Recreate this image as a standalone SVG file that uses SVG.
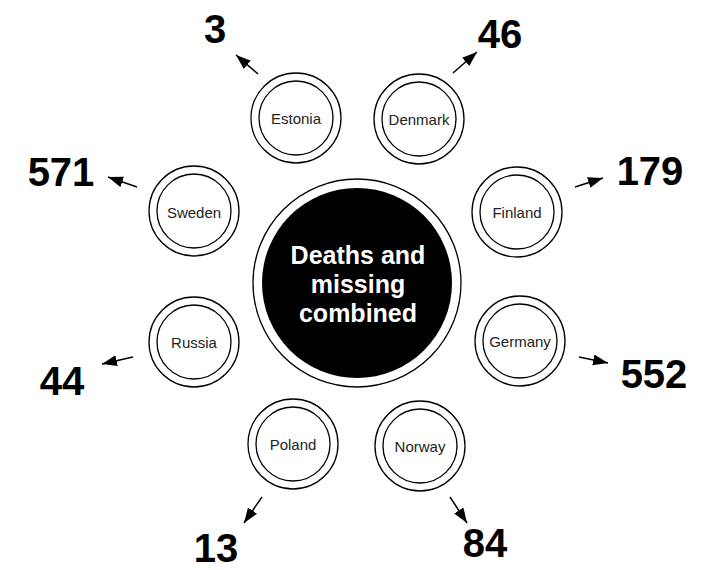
<svg xmlns="http://www.w3.org/2000/svg" width="710" height="570" viewBox="0 0 710 570">
<style>
.ring{fill:#fff;stroke:#000;stroke-width:1.3}
.lbl{font-family:"Liberation Sans",Arial,sans-serif;font-size:15px;fill:#222;text-anchor:middle;dominant-baseline:central}
.num{font-family:"Liberation Sans",Arial,sans-serif;font-size:40px;font-weight:bold;fill:#000;text-anchor:middle}
.ctr{font-family:"Liberation Sans",Arial,sans-serif;font-size:25px;font-weight:bold;fill:#fff;text-anchor:middle}
.arr{stroke:#000;stroke-width:1.5;fill:none;marker-end:url(#ah)}
</style>
<defs>
<marker id="ah" markerUnits="userSpaceOnUse" markerWidth="16" markerHeight="12" refX="15" refY="5.5" orient="auto">
<path d="M0,0 L15,5.5 L0,11 Z" fill="#000"/>
</marker>
</defs>
<rect width="710" height="570" fill="#fff"/>
<g id="center">
<circle cx="357" cy="283" r="104" class="ring"/>
<circle cx="357" cy="283" r="95" fill="#000"/>
<text class="ctr" x="358" y="264">Deaths and</text>
<text class="ctr" x="358" y="293">missing</text>
<text class="ctr" x="358" y="322">combined</text>
</g>
<g id="estonia"><circle cx="296" cy="118" r="45" class="ring"/><circle cx="296" cy="118" r="37" class="ring"/><text class="lbl" x="296" y="118">Estonia</text></g>
<g id="denmark"><circle cx="419" cy="119" r="45" class="ring"/><circle cx="419" cy="119" r="37" class="ring"/><text class="lbl" x="419" y="119">Denmark</text></g>
<g id="sweden"><circle cx="194" cy="211" r="45" class="ring"/><circle cx="194" cy="211" r="37" class="ring"/><text class="lbl" x="194" y="212">Sweden</text></g>
<g id="finland"><circle cx="517" cy="212" r="45" class="ring"/><circle cx="517" cy="212" r="37" class="ring"/><text class="lbl" x="517" y="212">Finland</text></g>
<g id="russia"><circle cx="194" cy="342" r="45" class="ring"/><circle cx="194" cy="342" r="37" class="ring"/><text class="lbl" x="194" y="342">Russia</text></g>
<g id="germany"><circle cx="520" cy="341" r="45" class="ring"/><circle cx="520" cy="341" r="37" class="ring"/><text class="lbl" x="520" y="341">Germany</text></g>
<g id="poland"><circle cx="293" cy="444" r="45" class="ring"/><circle cx="293" cy="444" r="37" class="ring"/><text class="lbl" x="293" y="444">Poland</text></g>
<g id="norway"><circle cx="420" cy="446" r="45" class="ring"/><circle cx="420" cy="446" r="37" class="ring"/><text class="lbl" x="420" y="446">Norway</text></g>
<g id="connectors">
<line class="arr" x1="258" y1="74" x2="236" y2="55"/>
<line class="arr" x1="453" y1="73" x2="477" y2="52"/>
<line class="arr" x1="137" y1="187" x2="108" y2="177"/>
<line class="arr" x1="575" y1="187" x2="603" y2="178"/>
<line class="arr" x1="133" y1="357" x2="102" y2="364"/>
<line class="arr" x1="579" y1="357" x2="608" y2="363"/>
<line class="arr" x1="262" y1="497" x2="244" y2="523"/>
<line class="arr" x1="450" y1="497" x2="467" y2="523"/>
</g>
<g id="values">
<text class="num" x="215" y="43">3</text>
<text class="num" x="500" y="48">46</text>
<text class="num" x="61" y="186">571</text>
<text class="num" x="650" y="185">179</text>
<text class="num" x="62" y="395">44</text>
<text class="num" x="654" y="388">552</text>
<text class="num" x="216" y="562">13</text>
<text class="num" x="485" y="557">84</text>
</g>
</svg>
